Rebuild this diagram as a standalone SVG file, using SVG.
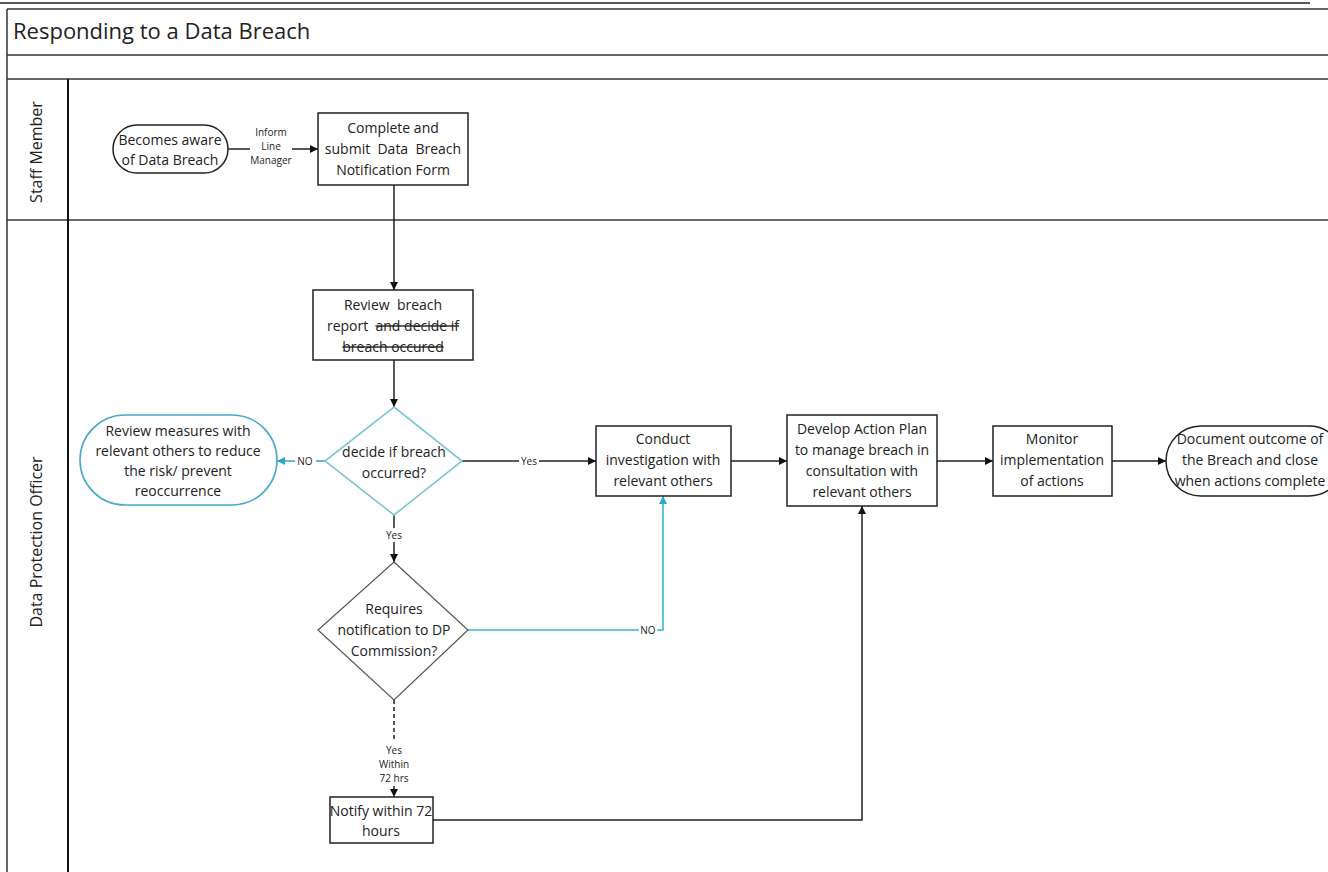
<svg xmlns="http://www.w3.org/2000/svg" width="1328" height="872" viewBox="0 0 1328 872">
<style>
  .frame{fill:none;stroke:#333;stroke-width:1.5}
  .box{fill:#fff;stroke:#222;stroke-width:1.5}
  .t{font-family:"Open Sans","Liberation Sans",sans-serif;font-size:14px;fill:#222;text-anchor:middle}
  .s{font-family:"Open Sans","Liberation Sans",sans-serif;font-size:10px;fill:#222;text-anchor:middle}
  .lane{font-family:"Open Sans","Liberation Sans",sans-serif;font-size:16px;fill:#222;text-anchor:middle}
  .title{font-family:"Open Sans","Liberation Sans",sans-serif;font-size:22px;fill:#222}
  .c{fill:none;stroke:#222;stroke-width:1.5}
  .cb{fill:none;stroke:#3ab8cc;stroke-width:1.6}
  .strike{text-decoration:line-through}
</style>
<defs>
  <marker id="ah" viewBox="0 0 10 10" refX="10" refY="5" markerWidth="8" markerHeight="8" markerUnits="userSpaceOnUse" orient="auto">
    <path d="M0,0 L10,5 L0,10 z" fill="#111"/>
  </marker>
  <marker id="ahb" viewBox="0 0 10 10" refX="10" refY="5" markerWidth="8" markerHeight="8" markerUnits="userSpaceOnUse" orient="auto">
    <path d="M0,0 L10,5 L0,10 z" fill="#2aa6d0"/>
  </marker>
</defs>
<rect width="1328" height="872" fill="#fff"/>
<g id="frame">
  <line x1="0" y1="3" x2="1310" y2="3" stroke="#222" stroke-width="1.5"/>
  <line x1="7" y1="9" x2="1328" y2="9" class="frame"/>
  <line x1="7" y1="9" x2="7" y2="872" class="frame"/>
  <line x1="7" y1="55" x2="1328" y2="55" class="frame"/>
  <line x1="7" y1="79" x2="1328" y2="79" class="frame"/>
  <line x1="7" y1="220" x2="1328" y2="220" class="frame"/>
  <line x1="68" y1="79" x2="68" y2="872" stroke="#111" stroke-width="2"/>
  <text class="title" x="13" y="39">Responding to a Data Breach</text>
  <text class="lane" transform="translate(42,152) rotate(-90)">Staff Member</text>
  <text class="lane" transform="translate(42,542) rotate(-90)">Data Protection Officer</text>
</g>
<g id="connectors">
  <path class="c" d="M228,149 H250"/>
  <path class="c" d="M292,149 H318" marker-end="url(#ah)"/>
  <text class="s" x="271" y="136">Inform</text>
  <text class="s" x="271" y="150">Line</text>
  <text class="s" x="271" y="164">Manager</text>
  <path class="c" d="M394,185 V290" marker-end="url(#ah)"/>
  <path class="c" d="M394,360 V407" marker-end="url(#ah)"/>
  <path d="M325,461 H316" fill="none" stroke="#2aa6d0" stroke-width="1.5"/>
  <path d="M295,461 H277" fill="none" stroke="#2aa6d0" stroke-width="1.5" marker-end="url(#ahb)"/>
  <text class="s" x="305" y="465">NO</text>
  <path class="c" d="M462,461 H519"/>
  <path class="c" d="M539,461 H596" marker-end="url(#ah)"/>
  <text class="s" x="529" y="465">Yes</text>
  <path class="c" d="M731,461 H787" marker-end="url(#ah)"/>
  <path class="c" d="M937,461 H993" marker-end="url(#ah)"/>
  <path class="c" d="M1112,461 H1166" marker-end="url(#ah)"/>
  <path class="c" d="M394,515 V528"/>
  <path class="c" d="M394,542 V562" marker-end="url(#ah)"/>
  <text class="s" x="394" y="539">Yes</text>
  <path class="cb" d="M468,630 H639"/>
  <path class="cb" d="M657,630 H663 V496" marker-end="url(#ahb)"/>
  <text class="s" x="648" y="634">NO</text>
  <path class="c" d="M394,700 V742" stroke-dasharray="4,3"/>
  <path class="c" d="M394,786 V797" stroke-dasharray="3,2" marker-end="url(#ah)"/>
  <text class="s" x="394" y="754">Yes</text>
  <text class="s" x="394" y="768">Within</text>
  <text class="s" x="394" y="782">72 hrs</text>
  <path class="c" d="M433,820 H862 V506" marker-end="url(#ah)"/>
</g>
<g id="n-aware">
  <rect x="113" y="125" width="115" height="48" rx="24" class="box"/>
  <text class="t" x="170" y="145">Becomes aware</text>
  <text class="t" x="170" y="165">of Data Breach</text>
</g>
<g id="n-complete">
  <rect x="318" y="113" width="150" height="72" class="box"/>
  <text class="t" x="393" y="133">Complete and</text>
  <text class="t" x="393" y="154" xml:space="preserve">submit  Data  Breach</text>
  <text class="t" x="393" y="175">Notification Form</text>
</g>
<g id="n-review">
  <rect x="313" y="290" width="160" height="70" class="box"/>
  <text class="t" x="393" y="310" xml:space="preserve">Review  breach</text>
  <text class="t" x="393" y="331" xml:space="preserve">report  <tspan class="strike">and decide if</tspan></text>
  <text class="t strike" x="393" y="352">breach occured</text>
</g>
<g id="n-decide">
  <polygon points="394,407 462,461 394,515 325,461" fill="#fff" stroke="#7fc6d4" stroke-width="1.6"/>
  <text class="t" x="394" y="457">decide if breach</text>
  <text class="t" x="394" y="478">occurred?</text>
</g>
<g id="n-measures">
  <rect x="80" y="415" width="197" height="90" rx="45" fill="#fff" stroke="#4aa8cc" stroke-width="1.6"/>
  <text class="t" x="178" y="436">Review measures with</text>
  <text class="t" x="178" y="456">relevant others to reduce</text>
  <text class="t" x="178" y="476">the risk/ prevent</text>
  <text class="t" x="178" y="496">reoccurrence</text>
</g>
<g id="n-conduct">
  <rect x="596" y="426" width="135" height="70" class="box"/>
  <text class="t" x="663" y="444">Conduct</text>
  <text class="t" x="663" y="465">investigation with</text>
  <text class="t" x="663" y="486">relevant others</text>
</g>
<g id="n-plan">
  <rect x="787" y="415" width="150" height="91" class="box"/>
  <text class="t" x="862" y="434">Develop Action Plan</text>
  <text class="t" x="862" y="455">to manage breach in</text>
  <text class="t" x="862" y="476">consultation with</text>
  <text class="t" x="862" y="497">relevant others</text>
</g>
<g id="n-monitor">
  <rect x="993" y="426" width="119" height="70" class="box"/>
  <text class="t" x="1052" y="444">Monitor</text>
  <text class="t" x="1052" y="465">implementation</text>
  <text class="t" x="1052" y="486">of actions</text>
</g>
<g id="n-document">
  <rect x="1166" y="426" width="178" height="70" rx="35" class="box"/>
  <text class="t" x="1250" y="444">Document outcome of</text>
  <text class="t" x="1250" y="465">the Breach and close</text>
  <text class="t" x="1250" y="486">when actions complete</text>
</g>
<g id="n-notify-q">
  <polygon points="394,562 468,630 394,700 318,630" fill="#fff" stroke="#555" stroke-width="1.2"/>
  <text class="t" x="394" y="614">Requires</text>
  <text class="t" x="394" y="635">notification to DP</text>
  <text class="t" x="394" y="656">Commission?</text>
</g>
<g id="n-notify">
  <rect x="330" y="797" width="103" height="46" class="box"/>
  <text class="t" x="381" y="816">Notify within 72</text>
  <text class="t" x="381" y="836">hours</text>
</g>
</svg>
